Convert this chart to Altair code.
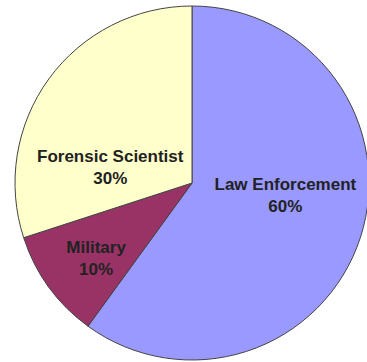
import altair as alt
import pandas as pd

categories = ["Law Enforcement", "Military", "Forensic Scientist"]
percents = [60, 10, 30]
order = [1, 2, 3]
colors = ["#9999FF", "#993366", "#FFFFCC"]

df = pd.DataFrame({"category": categories, "pct": percents, "order": order})

CX, CY, R = 192, 183, 177

arcs = alt.Chart(df).mark_arc(stroke="#444444", strokeWidth=1).encode(
    theta=alt.Theta("pct:Q", stack=True),
    order=alt.Order("order:Q"),
    color=alt.Color("category:N", scale=alt.Scale(domain=categories, range=colors), legend=None),
    x=alt.value(CX),
    y=alt.value(CY),
    radius=alt.value(R),
)

# label placement tweaks (radius, dx, dy) per slice
label_style = {
    "Law Enforcement": (95, 3, -27),
    "Military": (121, 2, -6),
    "Forensic Scientist": (85, -13, 24),
}

layers = [arcs]
for cat in categories:
    r, dx, dy = label_style[cat]
    t = alt.Chart(df).transform_window(
        cum="sum(pct)", sort=[alt.SortField("order")]
    ).transform_calculate(
        mid="datum.cum - datum.pct / 2",
        label="datum.category + '\\n' + datum.pct + '%'",
    ).transform_filter(
        alt.datum.category == cat
    ).mark_text(
        font="Liberation Sans", fontWeight="bold", fontSize=17,
        color="#222222", lineBreak="\n", lineHeight=22,
        align="center", baseline="middle", dx=dx, dy=dy,
    ).encode(
        theta=alt.Theta("mid:Q", stack=False),
        text="label:N",
        x=alt.value(CX),
        y=alt.value(CY),
        radius=alt.value(r),
    )
    layers.append(t)

chart = alt.layer(*layers).properties(
    width=367, height=362, padding=0, autosize=alt.AutoSizeParams(type="none"),
    background="white",
).configure_view(stroke=None)

chart.save("out.html", embed_options={"renderer": "svg", "actions": False})
